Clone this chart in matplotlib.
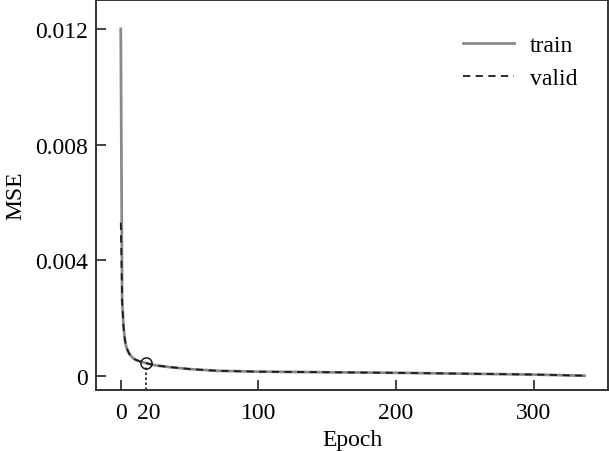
import matplotlib
matplotlib.use("Agg")
import matplotlib.pyplot as plt
from matplotlib.ticker import FixedLocator, FuncFormatter

plt.rcParams['font.family'] = ['Liberation Serif', 'DejaVu Serif']
plt.rcParams['font.size'] = 17

# values
epochs = [0, 1, 2, 3, 4, 6, 8, 10, 14, 18, 25, 35, 50, 70, 100, 150, 200, 250, 300, 337]
train_mse = [0.0120, 0.0026, 0.0017, 0.00125, 0.0010, 0.00078, 0.00066, 0.00058, 0.00050,
             0.00045, 0.00037, 0.00031, 0.00024, 0.00018, 0.00015, 0.00013, 0.00011,
             0.00008, 0.00005, 0.00001]
valid_mse = [0.0053, 0.0026, 0.0017, 0.00125, 0.0010, 0.00078, 0.00066, 0.00058, 0.00050,
             0.00045, 0.00037, 0.00031, 0.00024, 0.00018, 0.00015, 0.00013, 0.00011,
             0.00008, 0.00005, 0.00001]
best_epoch = 18
best_mse = 0.00045
x_ticks = [0, 20, 100, 200, 300]
y_ticks = [0, 0.004, 0.008, 0.012]


def fmt_y(v, pos):
    # plain decimals, zero as "0"
    if abs(v) < 1e-12:
        return "0"
    return f"{v:.3f}"


fig = plt.figure(figsize=(6.09, 4.52), dpi=100)
ax = fig.add_axes([96 / 609, 1 - 391 / 452, 512 / 609, 390 / 452])

ax.plot(epochs, train_mse, color='#8a8a8a', lw=2.0, label='train')
ax.plot(epochs, valid_mse, color='#1a1a1a', lw=1.3, ls=(0, (4, 3)), label='valid')

ymin, ymax = -0.000484, 0.0130

# best epoch marker with dotted drop line
ax.plot([best_epoch, best_epoch], [ymin, best_mse - 0.00009], color='#1a1a1a',
        lw=1.2, ls=(0, (1.5, 1.5)))
ax.plot([best_epoch], [best_mse], marker='o', ms=8, mfc='none', mec='#1a1a1a', mew=1.1)

ax.set_xlim(-18, 354)
ax.set_ylim(ymin, ymax)
ax.xaxis.set_major_locator(FixedLocator(x_ticks))
ax.yaxis.set_major_locator(FixedLocator(y_ticks))
ax.yaxis.set_major_formatter(FuncFormatter(fmt_y))
ax.tick_params(direction='in', length=7.5, width=1.2, color='#222222', labelsize=17,
               top=False, right=False)
ax.tick_params(axis='x', pad=9)
ax.tick_params(axis='y', pad=6)
# no tick mark at 20, the dotted line stands in for it
ax.xaxis.get_major_ticks()[1].tick1line.set_visible(False)

for s in ax.spines.values():
    s.set_linewidth(1.4)
    s.set_color('#333333')

ax.set_xlabel('Epoch', fontsize=17, labelpad=4)
ax.set_ylabel('MSE', fontsize=17, labelpad=6)

ax.legend(loc='upper right', frameon=False, fontsize=17, handlelength=2.2,
          handletextpad=0.65, labelspacing=0.5, borderaxespad=0.9,
          bbox_to_anchor=(1.0, 0.99))

fig.savefig('out.png', dpi=100)
